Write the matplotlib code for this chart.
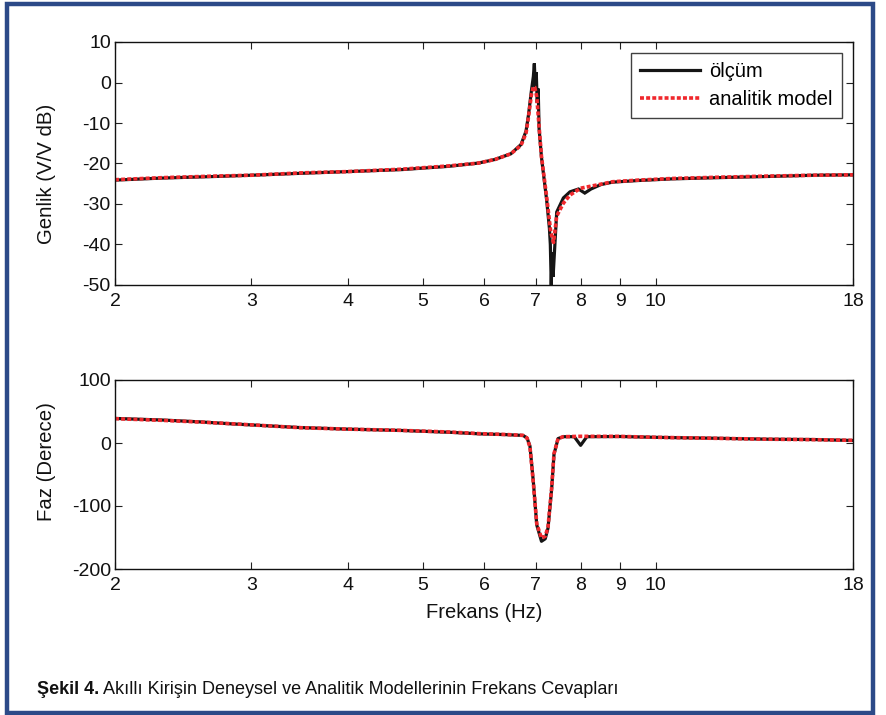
import matplotlib
matplotlib.use("Agg")
import matplotlib.pyplot as plt
from matplotlib.patches import Rectangle
from matplotlib.ticker import FixedLocator, FixedFormatter, NullLocator

plt.rcParams['font.family'] = ['Liberation Sans', 'DejaVu Sans']
plt.rcParams['axes.unicode_minus'] = False

# ---- data: magnitude (dB) ----
f_mag_model = [2, 2.3, 2.7, 3.0, 3.5, 4.0, 4.7, 5.4, 5.9, 6.2, 6.5, 6.7, 6.8, 6.85, 6.91,
               6.95, 6.98, 7.02, 7.07, 7.12, 7.23, 7.32, 7.38, 7.45, 7.6, 7.75, 8.0, 8.4,
               8.8, 9.5, 10.5, 12, 14, 16, 18]
mag_model = [-24.0, -23.5, -23.1, -22.9, -22.3, -22.0, -21.4, -20.6, -19.9, -19.0, -17.6,
             -15.5, -12.5, -8.5, -3.0, -1.0, -1.2, -3.5, -11.0, -18.3, -28.2, -37.0, -39.5,
             -33.0, -29.8, -27.8, -26.1, -25.3, -24.5, -24.1, -23.7, -23.4, -23.1, -22.9,
             -22.8]
f_mag_meas = [2, 2.3, 2.7, 3.0, 3.5, 4.0, 4.7, 5.4, 5.9, 6.2, 6.5, 6.7, 6.8, 6.85, 6.91,
              6.95, 6.97, 6.99, 7.01, 7.03, 7.05, 7.07, 7.12, 7.23, 7.29, 7.31, 7.33, 7.35,
              7.37, 7.45, 7.6, 7.75, 7.95, 8.1, 8.25, 8.5, 8.8, 9.5, 10.5, 12, 14, 16, 18]
mag_meas = [-24.1, -23.6, -23.2, -22.9, -22.4, -22.0, -21.5, -20.7, -19.9, -19.0, -17.6,
            -15.3, -12.0, -8.0, -2.0, 1.5, 4.7, -1.0, 2.5, -5.0, -1.5, -11.5, -18.5, -29.0,
            -36.0, -40.0, -50.0, -42.0, -48.0, -32.0, -28.5, -27.0, -26.3, -27.3, -26.3,
            -25.2, -24.6, -24.2, -23.8, -23.5, -23.2, -22.9, -22.8]

# ---- data: phase (degrees) ----
f_ph_model = [2, 2.3, 2.58, 2.82, 3.47, 4.0, 4.67, 5.42, 5.93, 6.4, 6.74, 6.82, 6.88, 6.95,
              7.02, 7.12, 7.2, 7.26, 7.34, 7.39, 7.48, 7.6, 8.0, 9.0, 10, 12, 14, 16, 18]
ph_model = [38.6, 36.0, 33.2, 30.7, 24.3, 22.0, 20.1, 17.4, 14.8, 13.5, 12.1, 8.0, -6.4,
            -64.0, -128.0, -151.0, -148.0, -133.0, -70.0, -17.0, 7.0, 10.0, 10.6, 10.5,
            9.0, 7.4, 6.0, 5.3, 4.2]
f_ph_meas = [2, 2.3, 2.58, 2.82, 3.47, 4.0, 4.67, 5.42, 5.93, 6.4, 6.74, 6.82, 6.88, 6.95,
             7.02, 7.12, 7.2, 7.26, 7.34, 7.39, 7.48, 7.6, 7.85, 8.0, 8.15, 9.0, 10, 12,
             14, 16, 18]
ph_meas = [39.0, 36.5, 33.5, 30.5, 24.5, 22.0, 20.0, 17.0, 14.5, 13.3, 12.0, 8.0, -5.0,
           -62.0, -130.0, -156.0, -152.0, -135.0, -72.0, -18.0, 7.0, 10.0, 10.0, -3.7,
           10.0, 10.3, 9.0, 7.5, 6.0, 5.5, 4.0]

xticks = [2, 3, 4, 5, 6, 7, 8, 9, 10, 18]
xticklabels = ['2', '3', '4', '5', '6', '7', '8', '9', '10', '18']
mag_ticks = [-50, -40, -30, -20, -10, 0, 10]
ph_ticks = [-200, -100, 0, 100]

W, H = 887, 715
fig = plt.figure(figsize=(W / 100, H / 100), dpi=100)

RED = '#f0282d'
BLK = '#151515'
FS = 14
LFS = 14.7
DOT = (0, (1.1, 0.6))

def style(ax, yticks):
    ax.set_xscale('log')
    ax.set_xlim(2, 18)
    ax.xaxis.set_major_locator(FixedLocator(xticks))
    ax.xaxis.set_major_formatter(FixedFormatter(xticklabels))
    ax.xaxis.set_minor_locator(NullLocator())
    ax.set_yticks(yticks)
    ax.set_yticklabels([str(t) for t in yticks])
    ax.tick_params(direction='in', length=5, width=0.8, top=True, right=True,
                   labelsize=FS, colors='#222222', labelcolor='#111111')
    ax.tick_params(axis='x', pad=6)
    ax.tick_params(axis='y', pad=3)
    for s in ax.spines.values():
        s.set_linewidth(1.0)
        s.set_color('#111111')

def ax_rect(l, t, r, b):
    return [l / W, 1 - b / H, (r - l) / W, (b - t) / H]

ax1 = fig.add_axes(ax_rect(115, 42, 853, 285))
ax1.plot(f_mag_meas, mag_meas, color=BLK, lw=2.3, solid_joinstyle='miter', label='ölçüm')
ax1.plot(f_mag_model, mag_model, color=RED, lw=2.6, linestyle=DOT,
         dash_capstyle='butt', label='analitik model')
ax1.set_ylim(-50, 10)
style(ax1, mag_ticks)
ax1.set_ylabel('Genlik (V/V dB)', fontsize=LFS, color='#111111')
ax1.yaxis.set_label_coords((46 - 115) / 738, (285 - 174) / 243)
ax1.yaxis.label.set_va('center')
leg = ax1.legend(loc='upper right', fontsize=14.5, frameon=True, fancybox=False,
                 edgecolor='#111111', borderaxespad=0.55, handlelength=3.0,
                 handletextpad=0.45, borderpad=0.45, labelspacing=0.45)
leg.get_frame().set_linewidth(1.0)

ax2 = fig.add_axes(ax_rect(115, 380, 853, 569))
ax2.plot(f_ph_meas, ph_meas, color=BLK, lw=2.3, label='ölçüm')
ax2.plot(f_ph_model, ph_model, color=RED, lw=2.6, linestyle=DOT,
         dash_capstyle='butt', label='analitik model')
ax2.set_ylim(-200, 100)
style(ax2, ph_ticks)
ax2.set_ylabel('Faz (Derece)', fontsize=LFS, color='#111111')
ax2.yaxis.set_label_coords((46 - 115) / 738, (569 - 462) / 189)
ax2.yaxis.label.set_va('center')
ax2.set_xlabel('Frekans (Hz)', fontsize=14.5, labelpad=6, color='#111111')

# blue frame
fig.patches.append(Rectangle((7 / W, 2 / H), (873 - 7) / W, (711 - 2) / H,
                             transform=fig.transFigure, fill=False,
                             edgecolor='#2c4a88', linewidth=3.2))

# caption
cap_family = ['Liberation Sans', 'DejaVu Sans']
t1 = fig.text(37 / W, 1 - 690 / H, 'Şekil 4.', fontsize=13, fontweight='bold',
              family=cap_family, va='center', ha='left', color='#111111')
fig.canvas.draw()
bb = t1.get_window_extent()
fig.text((bb.x1 + 4) / W, 1 - 690 / H,
         'Akıllı Kirişin Deneysel ve Analitik Modellerinin Frekans Cevapları',
         fontsize=13, family=cap_family, va='center', ha='left', color='#111111')

fig.savefig('out.png', dpi=100)
